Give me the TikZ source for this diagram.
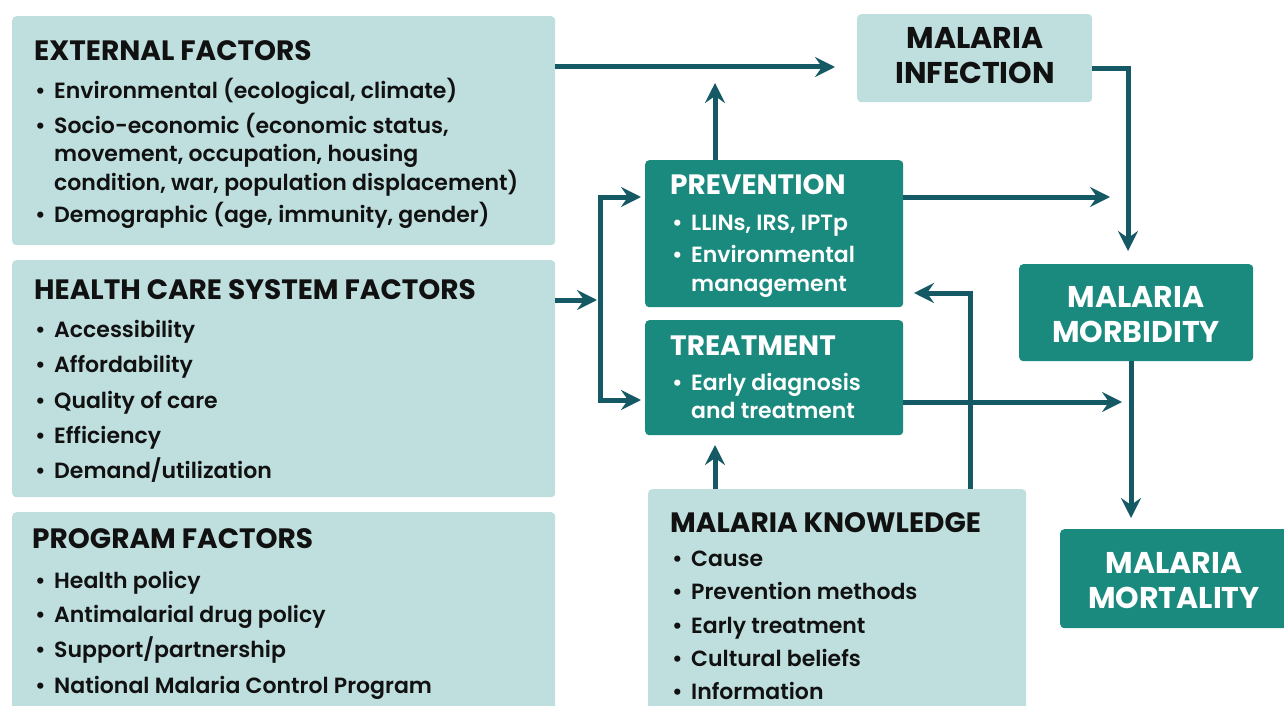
\documentclass[tikz,border=0pt]{standalone}
\usepackage{fontspec}
\setmainfont{Poppins}[UprightFont=* SemiBold, BoldFont=* Bold]
\usetikzlibrary{arrows.meta}

\definecolor{boxlight}{RGB}{190,223,222}
\definecolor{boxdark}{RGB}{27,138,126}
\definecolor{linkcol}{RGB}{21,89,100}
\definecolor{inkcol}{RGB}{17,17,17}

\newcommand{\itemdot}{\makebox[19pt][l]{\textbullet}}

\tikzset{
  lightbox/.style={fill=boxlight, rounded corners=4pt, inner sep=0pt, anchor=north west},
  darkbox/.style={fill=boxdark, rounded corners=4pt, inner sep=0pt, anchor=north west},
  head/.style={anchor=base west, inner sep=0pt, text=inkcol, font=\fontsize{28}{28}\selectfont\bfseries},
  item/.style={anchor=base west, inner sep=0pt, text=inkcol, font=\fontsize{22}{22}\selectfont},
  big/.style={anchor=base, inner sep=0pt, text=inkcol, font=\fontsize{30}{30}\selectfont\bfseries},
  ondark/.style={text=white},
  link/.style={draw=linkcol, line width=5pt, ->},
}

\begin{document}
\begin{tikzpicture}[x=1pt, y=-1pt, >={Stealth[length=20pt, width=20pt, inset=7pt]}]
\useasboundingbox (0,0) rectangle (1284,706);

% boxes
\node[lightbox, minimum width=543pt, minimum height=229pt] (ext) at (12,16) {};
\node[lightbox, minimum width=543pt, minimum height=237pt] (hcs) at (12,260) {};
\node[lightbox, minimum width=543pt, minimum height=204pt] (prog) at (12,512) {};
\node[lightbox, minimum width=235pt, minimum height=88pt] (inf) at (857,14) {};
\node[darkbox, minimum width=258pt, minimum height=147pt] (prev) at (645,160) {};
\node[darkbox, minimum width=258pt, minimum height=115pt] (treat) at (645,320) {};
\node[lightbox, minimum width=378pt, minimum height=226pt] (know) at (648,489) {};
\node[darkbox, minimum width=234pt, minimum height=97pt] (morb) at (1019,264) {};
\node[darkbox, minimum width=234pt, minimum height=99pt] (mort) at (1060,529) {};

% external factors
\node[head] (ext-h) at (34,61) {EXTERNAL FACTORS};
\node[item] (ext-1) at (35,99) {\itemdot Environmental (ecological, climate)};
\node[item] (ext-2) at (35,133) {\itemdot Socio-economic (economic status,};
\node[item] (ext-3) at (54,161) {movement, occupation, housing};
\node[item] (ext-4) at (54,190) {condition, war, population displacement)};
\node[item] (ext-5) at (35,222) {\itemdot Demographic (age, immunity, gender)};

% health care system
\node[head] (hcs-h) at (34,299) {HEALTH CARE SYSTEM FACTORS};
\node[item] (hcs-1) at (35,337) {\itemdot Accessibility};
\node[item] (hcs-2) at (35,372) {\itemdot Affordability};
\node[item] (hcs-3) at (35,408) {\itemdot Quality of care};
\node[item] (hcs-4) at (35,443) {\itemdot Efficiency};
\node[item] (hcs-5) at (35,478) {\itemdot Demand/utilization};

% program
\node[head] (prog-h) at (32,548) {PROGRAM FACTORS};
\node[item] (prog-1) at (35,588) {\itemdot Health policy};
\node[item] (prog-2) at (35,622) {\itemdot Antimalarial drug policy};
\node[item] (prog-3) at (35,657) {\itemdot Support/partnership};
\node[item] (prog-4) at (35,693) {\itemdot National Malaria Control Program};

% prevention and treatment
\node[head, ondark] (prev-h) at (670,194) {PREVENTION};
\node[item, ondark] (prev-1) at (672,230) {\itemdot LLINs, IRS, IPTp};
\node[item, ondark] (prev-2) at (672,262) {\itemdot Environmental};
\node[item, ondark] (prev-3) at (691,291) {management};
\node[head, ondark] (treat-h) at (670,355) {TREATMENT};
\node[item, ondark] (treat-1) at (672,390) {\itemdot Early diagnosis};
\node[item, ondark] (treat-2) at (691,418) {and treatment};

% knowledge
\node[head] (know-h) at (670,532) {MALARIA KNOWLEDGE};
\node[item] (know-1) at (672,566) {\itemdot Cause};
\node[item] (know-2) at (672,599) {\itemdot Prevention methods};
\node[item] (know-3) at (672,633) {\itemdot Early treatment};
\node[item] (know-4) at (672,666) {\itemdot Cultural beliefs};
\node[item] (know-5) at (672,699) {\itemdot Information};

% outcomes
\node[big] (inf-1) at (975,49) {MALARIA};
\node[big] (inf-2) at (975,84) {INFECTION};
\node[big, ondark] (morb-1) at (1136,307) {MALARIA};
\node[big, ondark] (morb-2) at (1136,342) {MORBIDITY};
\node[big, ondark] (mort-1) at (1174,573) {MALARIA};
\node[big, ondark] (mort-2) at (1174,608) {MORTALITY};

% connectors
\coordinate (inf-in) at (835,67);
\coordinate (prev-up) at (715,83);
\coordinate (split) at (600,300);
\coordinate (prev-in) at (641,197);
\coordinate (treat-in) at (641,400);
\coordinate (prev-out) at (1110,197);
\coordinate (morb-top) at (1128,251);
\coordinate (mort-top) at (1131,518);
\coordinate (treat-out) at (1122,402);
\coordinate (treat-up) at (715,445);
\coordinate (prev-back) at (914,293);

\draw[link] (ext.east |- inf-in) -- (inf-in);
\draw[link] (prev.north -| prev-up) -- (prev-up);
\draw[link] (hcs.east |- split) -- ([xshift=-3pt]split);
\draw[link, <->] (prev-in) -| (split) |- (treat-in);
\draw[link] (prev.east |- prev-out) -- (prev-out);
\draw[link] ([yshift=-10pt]inf.east) -| (morb-top);
\draw[link] (morb.south -| mort-top) -- (mort-top);
\draw[link] (treat.east |- treat-out) -- (treat-out);
\draw[link] (know.north -| treat-up) -- (treat-up);
\draw[link] ([xshift=133pt]know.north) |- (prev-back);
\end{tikzpicture}
\end{document}
